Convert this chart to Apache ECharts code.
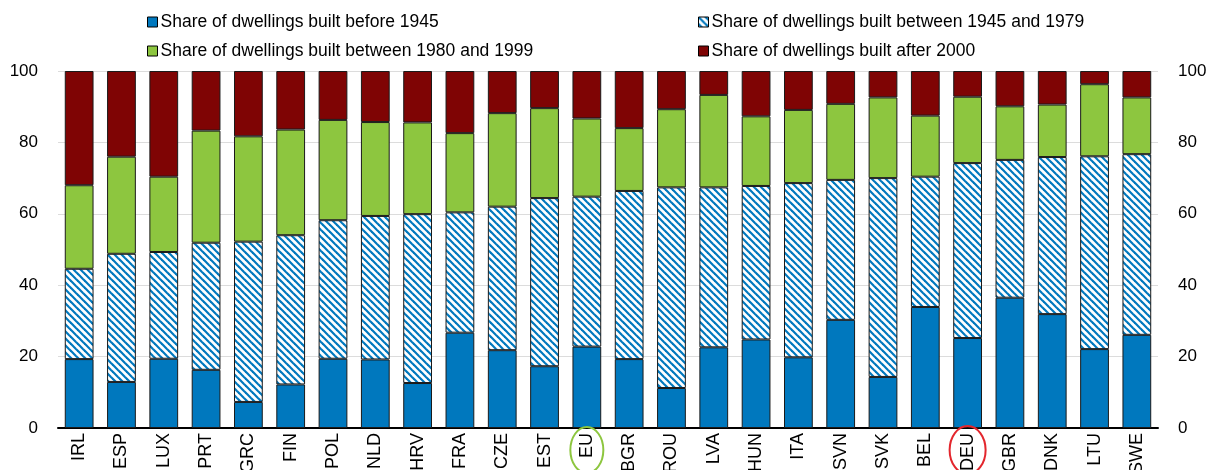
<!DOCTYPE html>
<html>
<head>
<meta charset="utf-8">
<script src="https://cdn.jsdelivr.net/npm/echarts@6/dist/echarts.min.js"></script>
<style>
  html, body { margin: 0; padding: 0; background: #fff; }
  #chart { width: 1208px; height: 470px; }
</style>
</head>
<body>
<div id="chart"></div>
<script>
// Country codes along the x axis
const categories = ['IRL','ESP','LUX','PRT','GRC','FIN','POL','NLD','HRV','FRA','CZE','EST','EU',
  'BGR','ROU','LVA','HUN','ITA','SVN','SVK','BEL','DEU','GBR','DNK','LTU','SWE'];

// Share of dwellings by construction period (%)
const before1945 = [19.3,12.9,19.4,16.3,7.3,12.2,19.4,19.2,12.6,26.7,21.8,17.3,22.8,
  19.3,11.2,22.6,24.8,19.8,30.3,14.3,33.9,25.2,36.5,31.9,22.1,26.1];
const from1945to1979 = [25.3,35.9,29.9,35.6,44.9,41.8,38.8,40.2,47.3,33.7,40.2,47.1,42.0,
  47.1,56.2,44.8,43.0,48.8,39.2,55.7,36.5,49.0,38.6,44.0,54.0,50.6];
const from1980to1999 = [23.4,27.2,21.1,31.4,29.5,29.6,28.1,26.3,25.7,22.2,26.2,25.2,21.9,
  17.6,21.9,25.9,19.5,20.5,21.3,22.6,17.1,18.6,15.0,14.7,20.2,15.9];
const after2000 = [32.0,24.0,29.6,16.7,18.3,16.4,13.7,14.3,14.4,17.4,11.8,10.4,13.3,
  16.0,10.7,6.7,12.7,10.9,9.2,7.4,12.5,7.2,9.9,9.4,3.7,7.4];

const seriesNames = [
  'Share of dwellings built before 1945',
  'Share of dwellings built between 1945 and 1979',
  'Share of dwellings built between 1980 and 1999',
  'Share of dwellings built after 2000'
];

const BLUE = '#0078BE';
const GREEN = '#8DC63F';
const DARKRED = '#7F0404';
const FONT = '"Liberation Sans", Arial, sans-serif';

// Diagonal blue/white stripes for the 1945-1979 segment
function stripeTile() {
  const s = 7;
  const c = document.createElement('canvas');
  c.width = s; c.height = s;
  const ctx = c.getContext('2d');
  ctx.fillStyle = '#ffffff';
  ctx.fillRect(0, 0, s, s);
  ctx.strokeStyle = BLUE;
  ctx.lineWidth = 2.2;
  for (const k of [-s, 0, s]) {
    ctx.beginPath();
    ctx.moveTo(k - 1, -1);
    ctx.lineTo(k + s + 1, s + 1);
    ctx.stroke();
  }
  return c;
}
const hatch = { image: stripeTile(), repeat: 'repeat' };

const chart = echarts.init(document.getElementById('chart'), null, { renderer: 'canvas' });

const barBase = {
  type: 'bar',
  stack: 'total',
  barWidth: '68%',
  emphasis: { disabled: true },
  animation: false
};

function legendAt(name, left, top) {
  return {
    data: [name],
    left: left,
    top: top,
    padding: 0,
    itemWidth: 10,
    itemHeight: 10,
    itemGap: 0,
    icon: 'rect',
    selectedMode: false,
    textStyle: { fontFamily: FONT, fontSize: 17.5, color: '#000', padding: [0, 0, 0, -2] },
    itemStyle: { borderColor: '#000', borderWidth: 1 }
  };
}

const valueAxis = (pos) => ({
  type: 'value',
  position: pos,
  min: 0,
  max: 100,
  interval: 20,
  axisLine: { show: false },
  axisTick: { show: false },
  axisLabel: {
    margin: 20,
    fontFamily: FONT,
    fontSize: 17,
    color: '#000'
  },
  splitLine: pos === 'left'
    ? { show: true, lineStyle: { color: '#DCDCDC', width: 1 } }
    : { show: false }
});

chart.setOption({
  backgroundColor: '#fff',
  animation: false,
  legend: [
    legendAt(seriesNames[0], 147, 13),
    legendAt(seriesNames[1], 698, 13),
    legendAt(seriesNames[2], 147, 42),
    legendAt(seriesNames[3], 698, 42)
  ],
  grid: { left: 58, right: 50, top: 71, bottom: 42, containLabel: false, outerBoundsMode: 'none' },
  xAxis: {
    type: 'category',
    data: categories,
    axisLine: { show: true, lineStyle: { color: '#000', width: 2 } },
    axisTick: { show: false },
    axisLabel: {
      rotate: 90,
      interval: 0,
      margin: 5,
      fontFamily: FONT,
      fontSize: 18,
      color: '#000'
    }
  },
  yAxis: [valueAxis('left'), valueAxis('right')],
  series: [
    Object.assign({}, barBase, {
      name: seriesNames[0], data: before1945,
      itemStyle: { color: BLUE, borderColor: '#1a1a1a', borderWidth: 1 }
    }),
    Object.assign({}, barBase, {
      name: seriesNames[1], data: from1945to1979,
      itemStyle: { color: hatch, borderColor: '#1a1a1a', borderWidth: 1 }
    }),
    Object.assign({}, barBase, {
      name: seriesNames[2], data: from1980to1999,
      itemStyle: { color: GREEN, borderColor: '#1a1a1a', borderWidth: 1 }
    }),
    Object.assign({}, barBase, {
      name: seriesNames[3], data: after2000,
      itemStyle: { color: DARKRED, borderColor: '#1a1a1a', borderWidth: 1 }
    })
  ]
});

// Highlight rings around the EU aggregate and Germany labels
function ringAround(code, color, rx, ry) {
  const x = chart.convertToPixel({ xAxisIndex: 0 }, code);
  const y0 = chart.convertToPixel({ yAxisIndex: 0 }, 0);
  return {
    type: 'ellipse',
    shape: { cx: x, cy: y0 + 22, rx: rx, ry: ry },
    style: { fill: null, stroke: color, lineWidth: 2 },
    silent: true,
    z: 100
  };
}
chart.setOption({
  graphic: [
    ringAround('EU', '#8DC63F', 16.5, 23),
    ringAround('DEU', '#E3262D', 18, 24)
  ]
});
</script>
</body>
</html>
